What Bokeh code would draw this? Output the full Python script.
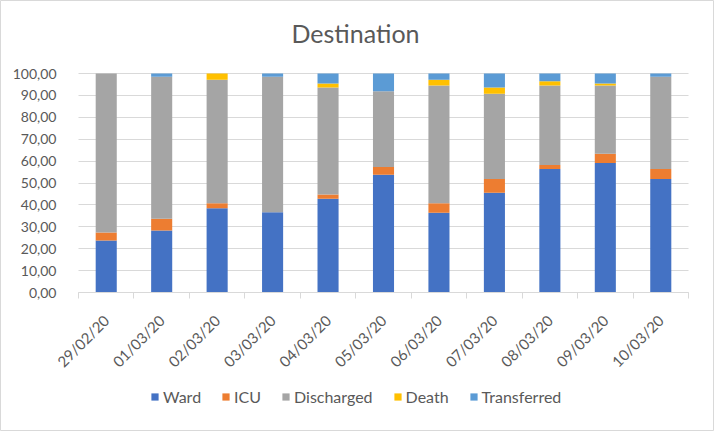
from bokeh.plotting import figure
from bokeh.models import FixedTicker, Legend, LegendItem, ColumnDataSource, Range1d, Label
from bokeh.embed import file_html
from bokeh.resources import INLINE
import math

dates = ["29/02/20", "01/03/20", "02/03/20", "03/03/20", "04/03/20", "05/03/20",
         "06/03/20", "07/03/20", "08/03/20", "09/03/20", "10/03/20"]
ward =        [23.8, 28.3, 38.5, 36.7, 42.8, 53.8, 36.4, 45.6, 56.4, 59.1, 51.8]
icu =         [3.6, 5.4, 2.3, 0.0, 1.9, 3.5, 4.4, 6.2, 1.8, 4.3, 4.6]
discharged =  [72.6, 64.8, 56.4, 61.8, 48.9, 34.6, 53.7, 39.0, 36.3, 31.1, 42.1]
death =       [0.0, 0.0, 2.8, 0.0, 1.8, 0.0, 2.7, 2.8, 2.0, 0.9, 0.0]
transferred = [0.0, 1.5, 0.0, 1.5, 4.6, 8.1, 2.8, 6.4, 3.5, 4.6, 1.5]
series = ["Ward", "ICU", "Discharged", "Death", "Transferred"]
colors = ["#4472C4", "#ED7D31", "#A5A5A5", "#FFC000", "#5B9BD5"]
y_ticks = [0, 10, 20, 30, 40, 50, 60, 70, 80, 90, 100]

xs = list(range(len(dates)))
src = ColumnDataSource(dict(x=xs, Ward=ward, ICU=icu, Discharged=discharged,
                            Death=death, Transferred=transferred))

FONT = "Lato"
GREY = "#595959"

# Layout (pixels): whole canvas is the frame; plot area 78..688 x 73..292
W, H = 714, 431
PL, PR, PT, PB = 78, 688, 73, 292
n = len(dates)
px_per_cat = (PR - PL) / n
px_per_unit = (PB - PT) / 100.0
x0 = -0.5 - PL / px_per_cat
x1 = n - 0.5 + (W - PR) / px_per_cat
y0 = -(H - PB) / px_per_unit
y1 = 100 + PT / px_per_unit

p = figure(frame_width=W, frame_height=H, output_backend="svg", toolbar_location=None,
           x_range=Range1d(x0, x1), y_range=Range1d(y0, y1), min_border=0)

renderers = p.vbar_stack(series, x="x", width=0.38, source=src, color=colors, line_color=None)

p.add_layout(Label(x=355, y=H - 32, x_units="screen", y_units="screen", text="Destination",
                   text_align="center", text_baseline="middle", text_font=FONT,
                   text_font_size="25px", text_color=GREY))

p.outline_line_color = "#D9D9D9"
p.xgrid.grid_line_color = None
p.ygrid.grid_line_color = "#D9D9D9"
p.ygrid.ticker = FixedTicker(ticks=y_ticks)
for g in p.ygrid:
    if "cross_bounds" in g.properties():
        g.cross_bounds = (-0.5, n - 0.5)

p.yaxis.fixed_location = -0.5
p.yaxis.bounds = (0, 100)
p.yaxis.ticker = FixedTicker(ticks=y_ticks)
p.yaxis.major_label_overrides = {t: f"{t},00" for t in y_ticks}
p.yaxis.axis_line_color = None
p.yaxis.major_tick_line_color = None
p.yaxis.minor_tick_line_color = None
p.yaxis.major_label_text_font = FONT
p.yaxis.major_label_text_font_size = "14px"
p.yaxis.major_label_text_color = GREY
p.yaxis.major_label_standoff = 16

bounds = [i - 0.5 for i in range(n + 1)]
p.xaxis.fixed_location = 0
p.xaxis.bounds = (-0.5, n - 0.5)
p.xaxis.ticker = FixedTicker(ticks=xs, minor_ticks=bounds)
p.xaxis.major_label_overrides = {i: d for i, d in zip(xs, dates)}
p.xaxis.major_label_orientation = math.pi / 4
p.xaxis.major_tick_line_color = None
p.xaxis.minor_tick_line_color = "#D9D9D9"
p.xaxis.minor_tick_in = 0
p.xaxis.minor_tick_out = 6
p.xaxis.axis_line_color = "#D9D9D9"
p.xaxis.major_label_text_font = FONT
p.xaxis.major_label_text_font_size = "15px"
p.xaxis.major_label_text_color = GREY
p.xaxis.major_label_standoff = 19

legend = Legend(items=[LegendItem(label=s, renderers=[r]) for s, r in zip(series, renderers)],
                orientation="horizontal", location=(150, 25),
                label_text_font=FONT, label_text_font_size="16px", label_text_color=GREY,
                glyph_width=9, glyph_height=9, spacing=20, label_standoff=4,
                border_line_color=None, background_fill_alpha=0, padding=2, margin=0)
p.add_layout(legend, "center")

open("out.html", "w").write(file_html(p, INLINE))
